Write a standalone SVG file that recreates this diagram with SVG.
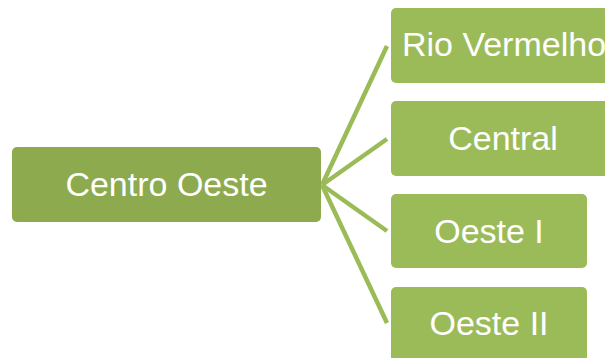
<svg xmlns="http://www.w3.org/2000/svg" width="605" height="358" viewBox="0 0 605 358">
<style>
.root{fill:#8EAA4F}
.leaf{fill:#9BBB59}
.lbl{font-family:"Liberation Sans",Arial,sans-serif;font-size:34px;fill:#ffffff;text-anchor:middle}
.con{stroke:#9BBB59;stroke-width:4.5;fill:none;stroke-linecap:butt}
</style>
<rect width="605" height="358" fill="#ffffff"/>
<g id="connectors">
<line class="con" x1="322" y1="185" x2="387" y2="46"/>
<line class="con" x1="322" y1="185" x2="387" y2="139"/>
<line class="con" x1="322" y1="185" x2="387" y2="231"/>
<line class="con" x1="322" y1="185" x2="387" y2="323"/>
</g>
<g id="centro-oeste">
<rect class="root" x="12" y="147" width="309" height="75" rx="5"/>
<text class="lbl" x="166.5" y="196">Centro Oeste</text>
</g>
<g id="rio-vermelho">
<rect class="leaf" x="391" y="8" width="225" height="75" rx="5"/>
<text class="lbl" x="504" y="56">Rio Vermelho</text>
</g>
<g id="central">
<rect class="leaf" x="391" y="101" width="225" height="75" rx="5"/>
<text class="lbl" x="503" y="149.5">Central</text>
</g>
<g id="oeste-i">
<rect class="leaf" x="391" y="194" width="196" height="74" rx="5"/>
<text class="lbl" x="489" y="242.5">Oeste I</text>
</g>
<g id="oeste-ii">
<rect class="leaf" x="391" y="287" width="196" height="75" rx="5"/>
<text class="lbl" x="489" y="335">Oeste II</text>
</g>
</svg>
